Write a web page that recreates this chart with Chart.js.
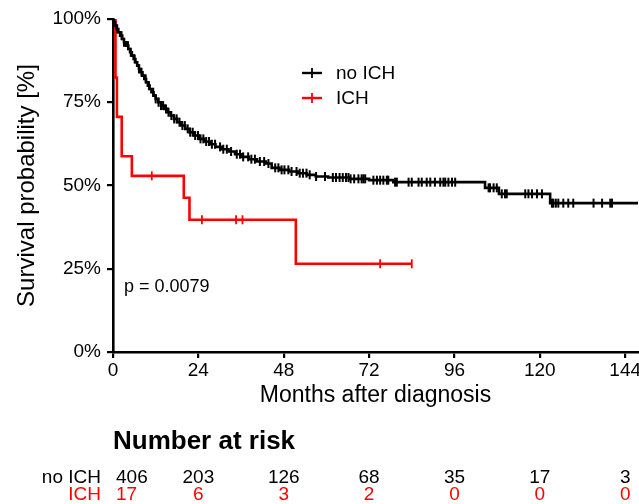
<!DOCTYPE html>
<html><head><meta charset="utf-8">
<script src="https://cdn.jsdelivr.net/npm/chart.js@4/dist/chart.umd.min.js"></script>
<style>html,body{margin:0;padding:0;background:#fff}#wrap{width:639px;height:504px;position:relative}</style>
</head><body><div id="wrap"><canvas id="c" width="639" height="504"></canvas></div>
<script>
// ---------- data ----------
const seriesNames = ['no ICH', 'ICH'];
const seriesColors = ['#000000', '#FF0000'];
const xTicks = [0, 24, 48, 72, 96, 120, 144];
const yTicks = [0, 25, 50, 75, 100];
const xMax = 147.6;

// Kaplan-Meier steps (months, survival %)
const noIchTimes = [0,0.3,0.6,1.0,1.5,2.0,2.6,3.1,3.7,4.3,4.8,5.3,5.8,6.3,6.8,7.3,7.8,8.3,8.8,9.3,9.8,10.3,10.8,11.4,12.0,12.7,13.5,14.4,15.3,16.2,17.1,18.1,19.2,20.3,21.5,22.8,24.2,25.7,27.2,28.8,30.5,32.5,34.3,36.2,38.2,40.5,43.0,44.6,46.8,49.5,52.0,54.5,57.0,60.5,66.5,72.0,78.8,104.6,108.5,122.9,147.6];
const noIchSurv  = [100,99.0,98.0,97.0,96.0,95.0,94.0,93.0,92.0,91.0,90.0,89.0,88.0,87.0,86.0,85.0,84.0,83.0,82.0,81.0,80.0,79.0,78.0,77.0,76.0,75.0,74.0,73.0,72.0,71.0,70.0,69.0,68.0,67.0,66.0,65.0,64.0,63.2,62.4,61.6,60.9,60.2,59.4,58.6,57.9,57.2,56.6,55.3,54.7,54.2,53.7,53.2,52.7,52.4,52.0,51.6,51.0,49.3,47.5,44.7,44.7];
const noIchCensor = [1.2,2.4,3.1,4.2,5.0,6.1,7.3,8.0,9.2,10.1,11.3,12.0,12.8,13.5,14.1,14.9,15.6,16.4,17.2,17.9,18.7,19.5,20.2,21.0,21.7,22.4,23.1,23.9,24.6,25.4,26.2,27.0,
  27.8,28.7,30.1,31.0,32.0,33.2,34.8,35.7,36.6,38.0,38.9,39.9,41.3,42.5,43.7,45.6,46.5,47.4,48.2,49.3,50.2,51.6,52.5,53.4,54.4,55.3,57.1,59.6,
  61.8,62.7,63.7,64.6,65.5,66.2,66.8,67.8,69.0,69.9,70.4,70.9,73.2,74.2,75.1,76.0,77.0,77.4,79.3,79.8,83.1,84.0,85.9,86.8,88.2,89.2,90.5,92.0,92.9,93.4,94.3,95.3,96.2,
  105.6,106.0,107.0,107.9,109.3,110.2,110.7,115.9,116.8,117.8,119.2,120.6,123.4,123.8,124.5,125.2,126.6,128.0,129.4,135.1,137.5,139.8,140.3];

const ichTimes = [0,0.7,1.1,2.45,5.3,19.9,21.5,51.4,84.0];
const ichSurv  = [100,82.4,70.6,58.8,52.9,46.3,39.7,26.5,26.5];
const ichCensor = [10.9,25.0,34.6,36.4,75.1,84.0];

const riskTimes = [0, 24, 48, 72, 96, 120, 144];
const riskNoIch = [406, 203, 126, 68, 35, 17, 3];
const riskIch   = [17, 6, 3, 2, 0, 0, 0];
const pValueText = 'p = 0.0079';
const riskTitle = 'Number at risk';
const xTitle = 'Months after diagnosis';
const yTitle = 'Survival probability [%]';

// ---------- helpers ----------
const FONT = '"Liberation Sans", Arial, Helvetica, sans-serif';
function survAt(times, surv, t) {
  let v = surv[0];
  for (let i = 0; i < times.length; i++) { if (times[i] <= t) v = surv[i]; else break; }
  return v;
}
const toPts = (ts, ss) => ts.map((t, i) => ({x: t, y: ss[i]}));
const censorPts = (cs, ts, ss) => cs.map(t => ({x: t, y: survAt(ts, ss, t)}));

const lineDs = (label, color, ts, ss) => ({
  type: 'line', label, data: toPts(ts, ss), borderColor: color, backgroundColor: color,
  borderWidth: 2.6, stepped: true, pointRadius: 0, fill: false, tension: 0
});
const censDs = (label, color, cs, ts, ss, r, w) => ({
  type: 'scatter', label, data: censorPts(cs, ts, ss), borderColor: color, backgroundColor: color,
  pointStyle: 'line', pointRotation: 90, pointRadius: r, pointBorderWidth: w, showLine: false
});

// ---------- plugins ----------
const extras = {
  id: 'extras',
  afterDraw(chart) {
    const ctx = chart.ctx, xs = chart.scales.x;
    ctx.save();
    // legend
    const legY = [73, 98];
    seriesNames.forEach((n, i) => {
      ctx.strokeStyle = seriesColors[i]; ctx.lineWidth = 2.4;
      ctx.beginPath(); ctx.moveTo(302, legY[i]); ctx.lineTo(322, legY[i]); ctx.stroke();
      ctx.lineWidth = 1.8;
      ctx.beginPath(); ctx.moveTo(312, legY[i] - 5); ctx.lineTo(312, legY[i] + 5); ctx.stroke();
      ctx.fillStyle = '#000'; ctx.font = '19px ' + FONT; ctx.textBaseline = 'middle'; ctx.textAlign = 'left';
      ctx.fillText(n, 336, legY[i] + 1);
    });
    // p value
    ctx.fillStyle = '#000'; ctx.font = '18px ' + FONT; ctx.textAlign = 'left'; ctx.textBaseline = 'middle';
    ctx.fillText(pValueText, 124, 287);
    // risk table
    ctx.font = 'bold 26px ' + FONT; ctx.textAlign = 'left';
    ctx.fillText(riskTitle, 113, 442);
    const rows = [riskNoIch, riskIch], rowY = [478, 495];
    rows.forEach((r, k) => {
      ctx.fillStyle = seriesColors[k]; ctx.font = '19px ' + FONT;
      ctx.textAlign = 'right'; ctx.fillText(seriesNames[k], 101, rowY[k]);
      r.forEach((v, i) => {
        const px = xs.getPixelForValue(riskTimes[i]);
        if (i === 0) { ctx.textAlign = 'left'; ctx.fillText(String(v), px + 3, rowY[k]); }
        else { ctx.textAlign = 'center'; ctx.fillText(String(v), px, rowY[k]); }
      });
    });
    ctx.restore();
  }
};

const axisCommon = {
  grid: {display: true, drawOnChartArea: false, drawTicks: true, tickLength: 6, tickWidth: 2.2, tickColor: '#000', color: '#000', lineWidth: 2.2},
  border: {display: true, color: '#000', width: 2.6},
};
const zeroPad = s => { s.paddingLeft = 0; s.paddingRight = 0; s.paddingTop = 0; s.paddingBottom = 0; };

const chart = new Chart(document.getElementById('c'), {
  data: {
    datasets: [
      lineDs(seriesNames[0], seriesColors[0], noIchTimes, noIchSurv),
      censDs(seriesNames[0] + ' censored', seriesColors[0], noIchCensor, noIchTimes, noIchSurv, 4.5, 2),
      lineDs(seriesNames[1], seriesColors[1], ichTimes, ichSurv),
      censDs(seriesNames[1] + ' censored', seriesColors[1], ichCensor, ichTimes, ichSurv, 4.5, 1.8)
    ]
  },
  options: {
    responsive: false, animation: false, devicePixelRatio: 1,
    layout: {autoPadding: false, padding: {left: 0, right: 1, top: 19, bottom: 95}},
    plugins: {legend: {display: false}, tooltip: {enabled: false}},
    scales: {
      x: Object.assign({}, axisCommon, {
        type: 'linear', min: 0, max: xMax, bounds: 'data',
        afterBuildTicks: a => { a.ticks = xTicks.map(v => ({value: v})); },
        afterFit: s => { s.height = 57; zeroPad(s); },
        ticks: {color: '#000', font: {family: FONT, size: 19}, padding: 1, maxRotation: 0, autoSkip: false, includeBounds: false},
        title: {display: true, text: xTitle, color: '#000', font: {family: FONT, size: 23}, padding: 0}
      }),
      y: Object.assign({}, axisCommon, {
        type: 'linear', min: 0, max: 100,
        afterBuildTicks: a => { a.ticks = yTicks.map(v => ({value: v})); },
        afterFit: s => { s.width = 113; zeroPad(s); },
        ticks: {color: '#000', font: {family: FONT, size: 19}, padding: 6, callback: v => v + '%'},
        title: {display: true, text: yTitle, color: '#000', font: {family: FONT, size: 24}, padding: {top: 13, bottom: 0}}
      })
    }
  },
  plugins: [extras]
});
</script></body></html>
